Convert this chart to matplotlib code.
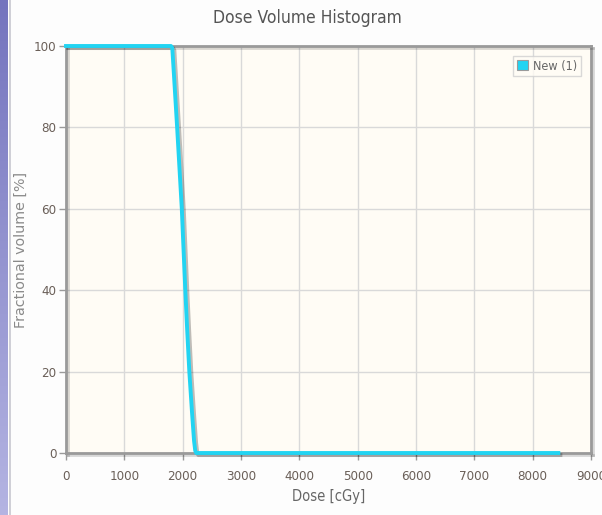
import numpy as np
import matplotlib
matplotlib.use("Agg")
import matplotlib.pyplot as plt
import matplotlib.patheffects as pe
from matplotlib.patches import Rectangle
from matplotlib.colors import LinearSegmentedColormap
from matplotlib import font_manager as fm

# Cumulative DVH for structure "New (1)"
dose_cgy = [0, 1800, 1822, 1850, 1905, 1945, 1985, 2015, 2045, 2078, 2114, 2160, 2195, 2215, 2232, 8440]
volume_pct = [100, 100, 99.5, 93, 80, 70, 60, 50, 40, 30, 20, 10, 3, 0.6, 0, 0]
series_name = "New (1)"

x_ticks = [0, 1000, 2000, 3000, 4000, 5000, 6000, 7000, 8000, 9000]
y_ticks = [0, 20, 40, 60, 80, 100]


def narrow_font(size):
    """Pick a condensed sans face if one is installed."""
    for fam, stretch in [("Liberation Sans Narrow", "normal"), ("DejaVu Sans", "condensed")]:
        fp = fm.FontProperties(family=fam, stretch=stretch, size=size)
        try:
            path = fm.findfont(fp, fallback_to_default=False)
        except Exception:
            continue
        if fam == "DejaVu Sans" and "Condensed" not in path:
            continue
        return fm.FontProperties(fname=path, size=size)
    return fm.FontProperties(family="DejaVu Sans", size=size * 0.85)


W, H = 602, 515
fig = plt.figure(figsize=(W / 100, H / 100), dpi=100)
fig.patch.set_facecolor("#fdfdfd")

# Left side panel strip with vertical gradient
strip = fig.add_axes([0, 0, 8 / W, 1])
grad = np.linspace(0, 1, 256).reshape(-1, 1)
cmap = LinearSegmentedColormap.from_list("strip", ["#b4b4e2", "#7474be"])
strip.imshow(grad, aspect="auto", cmap=cmap, origin="lower", extent=[0, 1, 0, 1])
strip.set_axis_off()
fig.add_artist(plt.Line2D([9.5 / W, 9.5 / W], [0, 1], color="#c8c8d0", lw=1.2))

ax = fig.add_axes([66 / W, 1 - 453 / H, 525 / W, 407 / H])
ax.set_facecolor("#fffcf5")
ax.set_xlim(0, 9000)
ax.set_ylim(0, 100)
ax.grid(True, color="#d9d9d9", lw=1.0)
ax.set_axisbelow(True)

for s in ax.spines.values():
    s.set_color("#9a9a9a")
    s.set_linewidth(2.0)
    s.set_path_effects([pe.SimpleLineShadow(offset=(1.5, -1.5), shadow_color="#000000", alpha=0.15),
                        pe.Normal()])

tick_fp = narrow_font(9.5)
ax.set_xticks(x_ticks)
ax.set_yticks(y_ticks)
ax.set_xticklabels([str(v) for v in x_ticks], fontproperties=tick_fp)
ax.set_yticklabels([str(v) for v in y_ticks], fontproperties=tick_fp)
ax.tick_params(axis="both", direction="out", length=5, width=1, color="#9a9a9a",
               labelcolor="#6a5f58")
ax.tick_params(axis="x", pad=7)
ax.tick_params(axis="y", pad=2)

ax.plot(dose_cgy, volume_pct, color="#22d4f2", lw=2.8, solid_joinstyle="round",
        label=series_name, clip_on=False, zorder=5,
        path_effects=[pe.SimpleLineShadow(offset=(1.5, -1.5), shadow_color="#000000", alpha=0.25),
                      pe.Normal()])

ax.set_xlabel("Dose [cGy]", fontproperties=narrow_font(10.5), color="#666666")
ax.set_ylabel("Fractional volume [%]", fontsize=10.3, color="#8a8a8a", family="DejaVu Sans")
ax.yaxis.set_label_coords(-0.072, 0.5)
ax.xaxis.set_label_coords(0.5, -0.088)

title_fp = narrow_font(12.5)
fig.text(307 / W, 1 - 18 / H, "Dose Volume Histogram", ha="center", va="center",
         fontproperties=title_fp, color="#555555")

# Legend
handle = Rectangle((0, 0), 1, 1, facecolor="#22d4f2", edgecolor="#9a9a9a", lw=0.8)
leg = ax.legend([handle], [series_name], loc="upper right", bbox_to_anchor=(0.985, 0.982),
                frameon=True, fancybox=False, handlelength=0.9, handleheight=0.9,
                handletextpad=0.35, borderpad=0.3, borderaxespad=0.2, labelcolor="#666666",
                prop=narrow_font(9))
leg.get_frame().set_edgecolor("#d0d0d0")
leg.get_frame().set_facecolor("#fffcf5")
leg.get_frame().set_linewidth(1.0)

fig.savefig("out.png", dpi=100, facecolor=fig.get_facecolor())
